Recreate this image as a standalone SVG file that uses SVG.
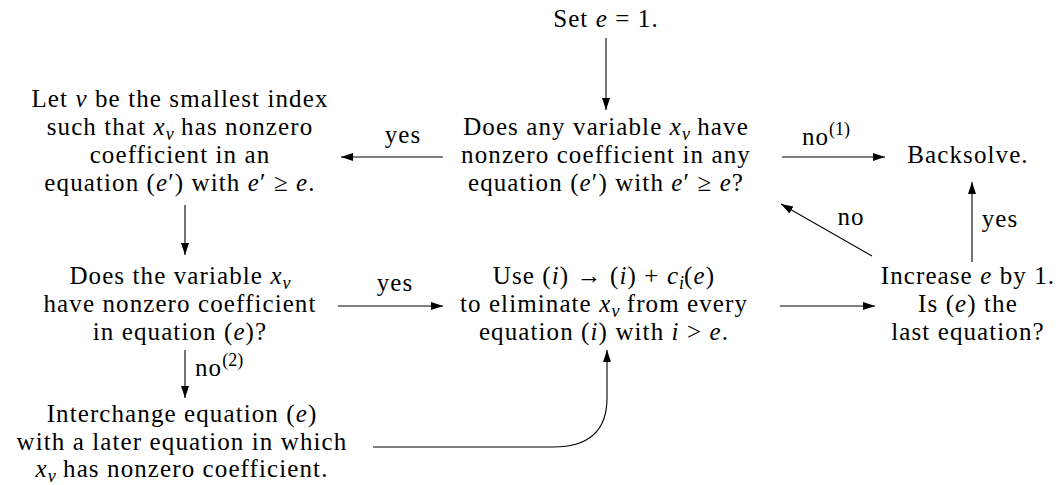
<svg xmlns="http://www.w3.org/2000/svg" width="1060" height="485" viewBox="0 0 1060 485">
<defs>
<style>
text{font-size:25px;fill:#000;text-anchor:middle;letter-spacing:1.1px}
.i{font-style:italic}
.s{font-size:18px;font-style:italic;letter-spacing:0}
.sp{font-size:18px;letter-spacing:0}
.lab{text-anchor:start}
.c{fill:none;stroke:#000;stroke-width:1.1}
</style>
<marker id="ah" markerUnits="userSpaceOnUse" markerWidth="14" markerHeight="10" refX="12" refY="4" orient="auto" viewBox="0 0 14 10">
<path d="M0,0 L12,4 L0,8 Z" fill="#000"/>
</marker>
</defs>
<rect width="1060" height="485" fill="#fff" font-family="Liberation Mono"/>
<g font-family="Liberation Serif, serif">
<g id="connectors" font-family="serif">
<path class="c" d="M606,38 V110" marker-end="url(#ah)" font-family="Lato"/>
<path class="c" d="M443,157 H341" marker-end="url(#ah)" font-family="Liberation Sans"/>
<path class="c" d="M782,157 H885" marker-end="url(#ah)" font-family="DejaVu Serif"/>
<path class="c" d="M872,256 L781,204" marker-end="url(#ah)" font-family="Noto Serif"/>
<path class="c" d="M972,262 V182" marker-end="url(#ah)"/>
<path class="c" d="M185,205 V255" marker-end="url(#ah)"/>
<path class="c" d="M338,306 H443" marker-end="url(#ah)"/>
<path class="c" d="M780,306 H875" marker-end="url(#ah)"/>
<path class="c" d="M185,350 V398" marker-end="url(#ah)"/>
<path class="c" d="M373,447 H553 C590,447 607,430 607,398 V350" marker-end="url(#ah)"/>
<text x="403" y="143">yes</text>
<text x="826" y="145">no<tspan class="sp" dy="-10">(1)</tspan></text>
<text x="851" y="225">no</text>
<text x="1000" y="227">yes</text>
<text x="395" y="291">yes</text>
<text class="lab" x="195" y="376">no<tspan class="sp" dy="-10">(2)</tspan></text>
</g>

<g id="set-e" font-family="Liberation Serif">
<text x="606" y="27">Set <tspan class="i">e</tspan> = 1.</text>
</g>

<g id="any-variable" font-family="Times New Roman">
<text x="606" y="135">Does any variable <tspan class="i">x</tspan><tspan class="s" dy="5">v</tspan><tspan dy="-5"> have</tspan></text>
<text x="606" y="163">nonzero coefficient in any</text>
<text x="606" y="191">equation (<tspan class="i">e</tspan>′) with <tspan class="i">e</tspan>′ ≥ <tspan class="i">e</tspan>?</text>
</g>

<g id="smallest-index">
<text x="180" y="107">Let <tspan class="i">v</tspan> be the smallest index</text>
<text x="180" y="135">such that <tspan class="i">x</tspan><tspan class="s" dy="5">v</tspan><tspan dy="-5"> has nonzero</tspan></text>
<text x="180" y="163">coefficient in an</text>
<text x="180" y="191">equation (<tspan class="i">e</tspan>′) with <tspan class="i">e</tspan>′ ≥ <tspan class="i">e</tspan>.</text>
</g>

<g id="backsolve" font-family="Liberation Serif">
<text x="968" y="163">Backsolve.</text>
</g>

<g id="does-variable" font-family="Times New Roman">
<text x="180" y="284">Does the variable <tspan class="i">x</tspan><tspan class="s" dy="5">v</tspan></text>
<text x="180" y="312">have nonzero coefficient</text>
<text x="180" y="340">in equation (<tspan class="i">e</tspan>)?</text>
</g>

<g id="eliminate" font-family="Times New Roman">
<text x="604" y="284">Use (<tspan class="i">i</tspan>) → (<tspan class="i">i</tspan>) + <tspan class="i">c</tspan><tspan class="s" dy="5">i</tspan><tspan dy="-5">(</tspan><tspan class="i">e</tspan>)</text>
<text x="604" y="312">to eliminate <tspan class="i">x</tspan><tspan class="s" dy="5">v</tspan><tspan dy="-5"> from every</tspan></text>
<text x="604" y="340">equation (<tspan class="i">i</tspan>) with <tspan class="i">i</tspan> &gt; <tspan class="i">e</tspan>.</text>
</g>

<g id="increase-e" font-family="Times New Roman">
<text x="968" y="284">Increase <tspan class="i">e</tspan> by 1.</text>
<text x="968" y="312">Is (<tspan class="i">e</tspan>) the</text>
<text x="968" y="340">last equation?</text>
</g>

<g id="interchange" font-family="Liberation Serif">
<text x="182" y="422">Interchange equation (<tspan class="i">e</tspan>)</text>
<text x="182" y="450">with a later equation in which</text>
<text x="182" y="477"><tspan class="i">x</tspan><tspan class="s" dy="5">v</tspan><tspan dy="-5"> has nonzero coefficient.</tspan></text>
</g>
</g>
</svg>
